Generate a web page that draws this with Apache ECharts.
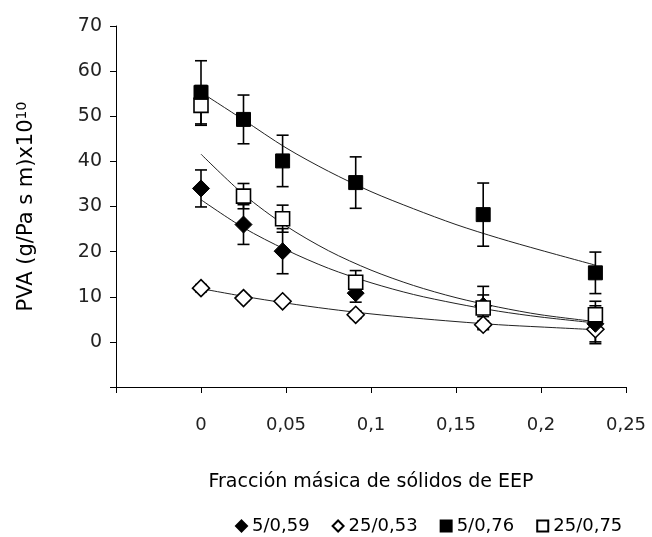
<!DOCTYPE html>
<html>
<head>
<meta charset="utf-8">
<script src="https://cdn.jsdelivr.net/npm/echarts@6/dist/echarts.min.js"></script>
<style>
  html, body { margin: 0; padding: 0; background: #fff; }
  #chart { width: 652px; height: 537px; }
</style>
</head>
<body>
<div id="chart"></div>
<script>
// Solids mass fraction of EEP for each measured point
const xFraction = [0, 0.025, 0.048, 0.091, 0.166, 0.232];

// Water vapour permeability (x10^10) and its deviation, per film condition
const seriesNames = ['5/0,59', '25/0,53', '5/0,76', '25/0,75'];
const pva_5_059  = [34.0, 26.0, 20.1, 10.8, 8.0, 4.0];
const err_5_059  = [4.1, 4.4, 5.0, 2.0, 2.4, 4.0];
const pva_25_053 = [11.9, 9.7, 9.0, 6.0, 3.8, 2.8];
const err_25_053 = [0.8, 0.6, 0.6, 0.8, 0.8, 3.2];
const pva_5_076  = [55.3, 49.3, 40.1, 35.3, 28.2, 15.3];
const err_5_076  = [7.0, 5.4, 5.7, 5.7, 7.0, 4.6];
const pva_25_075 = [52.4, 32.3, 27.3, 13.2, 7.5, 6.0];
const err_25_075 = [4.4, 2.8, 3.0, 2.6, 4.8, 3.0];

// Fitted trend curves sampled along the fraction axis
const trendX = [0, 0.025, 0.05, 0.075, 0.1, 0.125, 0.15, 0.175, 0.2, 0.232];
const trend_5_059  = [31.5, 25.3, 20.4, 16.3, 13.1, 10.5, 8.5, 6.8, 5.5, 4.2];
const trend_25_053 = [11.8, 10.1, 8.6, 7.3, 6.2, 5.3, 4.5, 3.8, 3.3, 2.7];
const trend_5_076  = [55.3, 49.2, 43.0, 37.8, 33.3, 29.5, 26.0, 23.0, 20.3, 17.0];
const trend_25_075 = [41.6, 32.7, 25.7, 20.2, 15.9, 12.5, 9.8, 7.7, 6.0, 4.5];

// Tick labels (first tick of each axis is left blank)
const xTickLabels = ['', '0', '0,05', '0,1', '0,15', '0,2', '0,25'];
const yTickLabels = ['', '0', '10', '20', '30', '40', '50', '60', '70'];

const FONT = 'DejaVu Sans';

function pairs(xs, ys) { return xs.map((x, i) => [x, ys[i]]); }
function errRows(ys, es) { return xFraction.map((x, i) => [x, ys[i] - es[i], ys[i] + es[i]]); }

function errorBarSeries(ys, es, z) {
  return {
    type: 'custom',
    z: z,
    silent: true,
    data: errRows(ys, es),
    encode: { x: 0, y: [1, 2] },
    renderItem: function (params, api) {
      const lo = api.coord([api.value(0), api.value(1)]);
      const hi = api.coord([api.value(0), api.value(2)]);
      const hw = 6;
      const st = { stroke: '#000', lineWidth: 1.6 };
      return {
        type: 'group',
        children: [
          { type: 'line', shape: { x1: lo[0], y1: lo[1], x2: hi[0], y2: hi[1] }, style: st },
          { type: 'line', shape: { x1: lo[0] - hw, y1: lo[1], x2: lo[0] + hw, y2: lo[1] }, style: st },
          { type: 'line', shape: { x1: hi[0] - hw, y1: hi[1], x2: hi[0] + hw, y2: hi[1] }, style: st }
        ]
      };
    }
  };
}

function trendSeries(ys) {
  return {
    type: 'line',
    z: 2,
    silent: true,
    data: pairs(trendX, ys),
    smooth: 0.3,
    symbol: 'none',
    lineStyle: { color: '#222', width: 1 }
  };
}

function markerSeries(name, ys, symbol, filled, size, z) {
  return {
    name: name,
    type: 'scatter',
    z: z,
    data: pairs(xFraction, ys),
    symbol: symbol,
    symbolSize: size,
    itemStyle: filled
      ? { color: '#000', borderColor: '#000', borderWidth: 1, opacity: 1 }
      : { color: '#fff', borderColor: '#000', borderWidth: 1.6, opacity: 1 }
  };
}

const chart = echarts.init(document.getElementById('chart'), null, { renderer: 'canvas' });

chart.setOption({
  animation: false,
  backgroundColor: '#fff',
  grid: { left: 116, right: 26, top: 26, bottom: 150, containLabel: false },
  xAxis: {
    type: 'value',
    min: -0.05, max: 0.25, interval: 0.05,
    name: 'Fracción másica de sólidos de EEP',
    nameLocation: 'middle',
    nameGap: 86,
    nameTextStyle: { fontFamily: FONT, fontSize: 19, color: '#000' },
    axisLine: { onZero: false, lineStyle: { color: '#000', width: 1 } },
    axisTick: { inside: false, length: 6, lineStyle: { color: '#000' } },
    axisLabel: {
      margin: 29,
      fontFamily: FONT, fontSize: 18, color: '#222',
      formatter: function (v, i) { return xTickLabels[i] ?? ''; }
    },
    splitLine: { show: false }
  },
  yAxis: {
    type: 'value',
    min: -10, max: 70, interval: 10,
    name: 'PVA (g/Pa s m)x10{s|10}',
    nameLocation: 'middle',
    nameGap: 77,
    nameTextStyle: {
      fontFamily: FONT, fontSize: 21, color: '#000',
      rich: { s: { fontFamily: FONT, fontSize: 14, color: '#000', verticalAlign: 'top', padding: [0, 0, 10, 0] } }
    },
    axisLine: { onZero: false, lineStyle: { color: '#000', width: 1 } },
    axisTick: { inside: false, length: 6, lineStyle: { color: '#000' } },
    axisLabel: {
      margin: 14,
      fontFamily: FONT, fontSize: 19, color: '#222',
      formatter: function (v, i) { return yTickLabels[i] ?? ''; }
    },
    splitLine: { show: false }
  },
  legend: {
    data: seriesNames,
    left: 230, top: 512,
    itemWidth: 11, itemHeight: 11, itemGap: 22,
    textStyle: { fontFamily: FONT, fontSize: 18, color: '#000', padding: [0, 0, 0, 0] },
    selectedMode: false
  },
  series: [
    trendSeries(trend_25_053),
    trendSeries(trend_5_059),
    trendSeries(trend_25_075),
    trendSeries(trend_5_076),
    errorBarSeries(pva_25_053, err_25_053, 3),
    errorBarSeries(pva_5_059, err_5_059, 3),
    errorBarSeries(pva_25_075, err_25_075, 3),
    errorBarSeries(pva_5_076, err_5_076, 3),
    markerSeries('25/0,53', pva_25_053, 'diamond', false, 17, 4),
    markerSeries('5/0,59', pva_5_059, 'diamond', true, 17, 5),
    markerSeries('25/0,75', pva_25_075, 'rect', false, 14, 6),
    markerSeries('5/0,76', pva_5_076, 'rect', true, 14, 7)
  ]
});
</script>
</body>
</html>
